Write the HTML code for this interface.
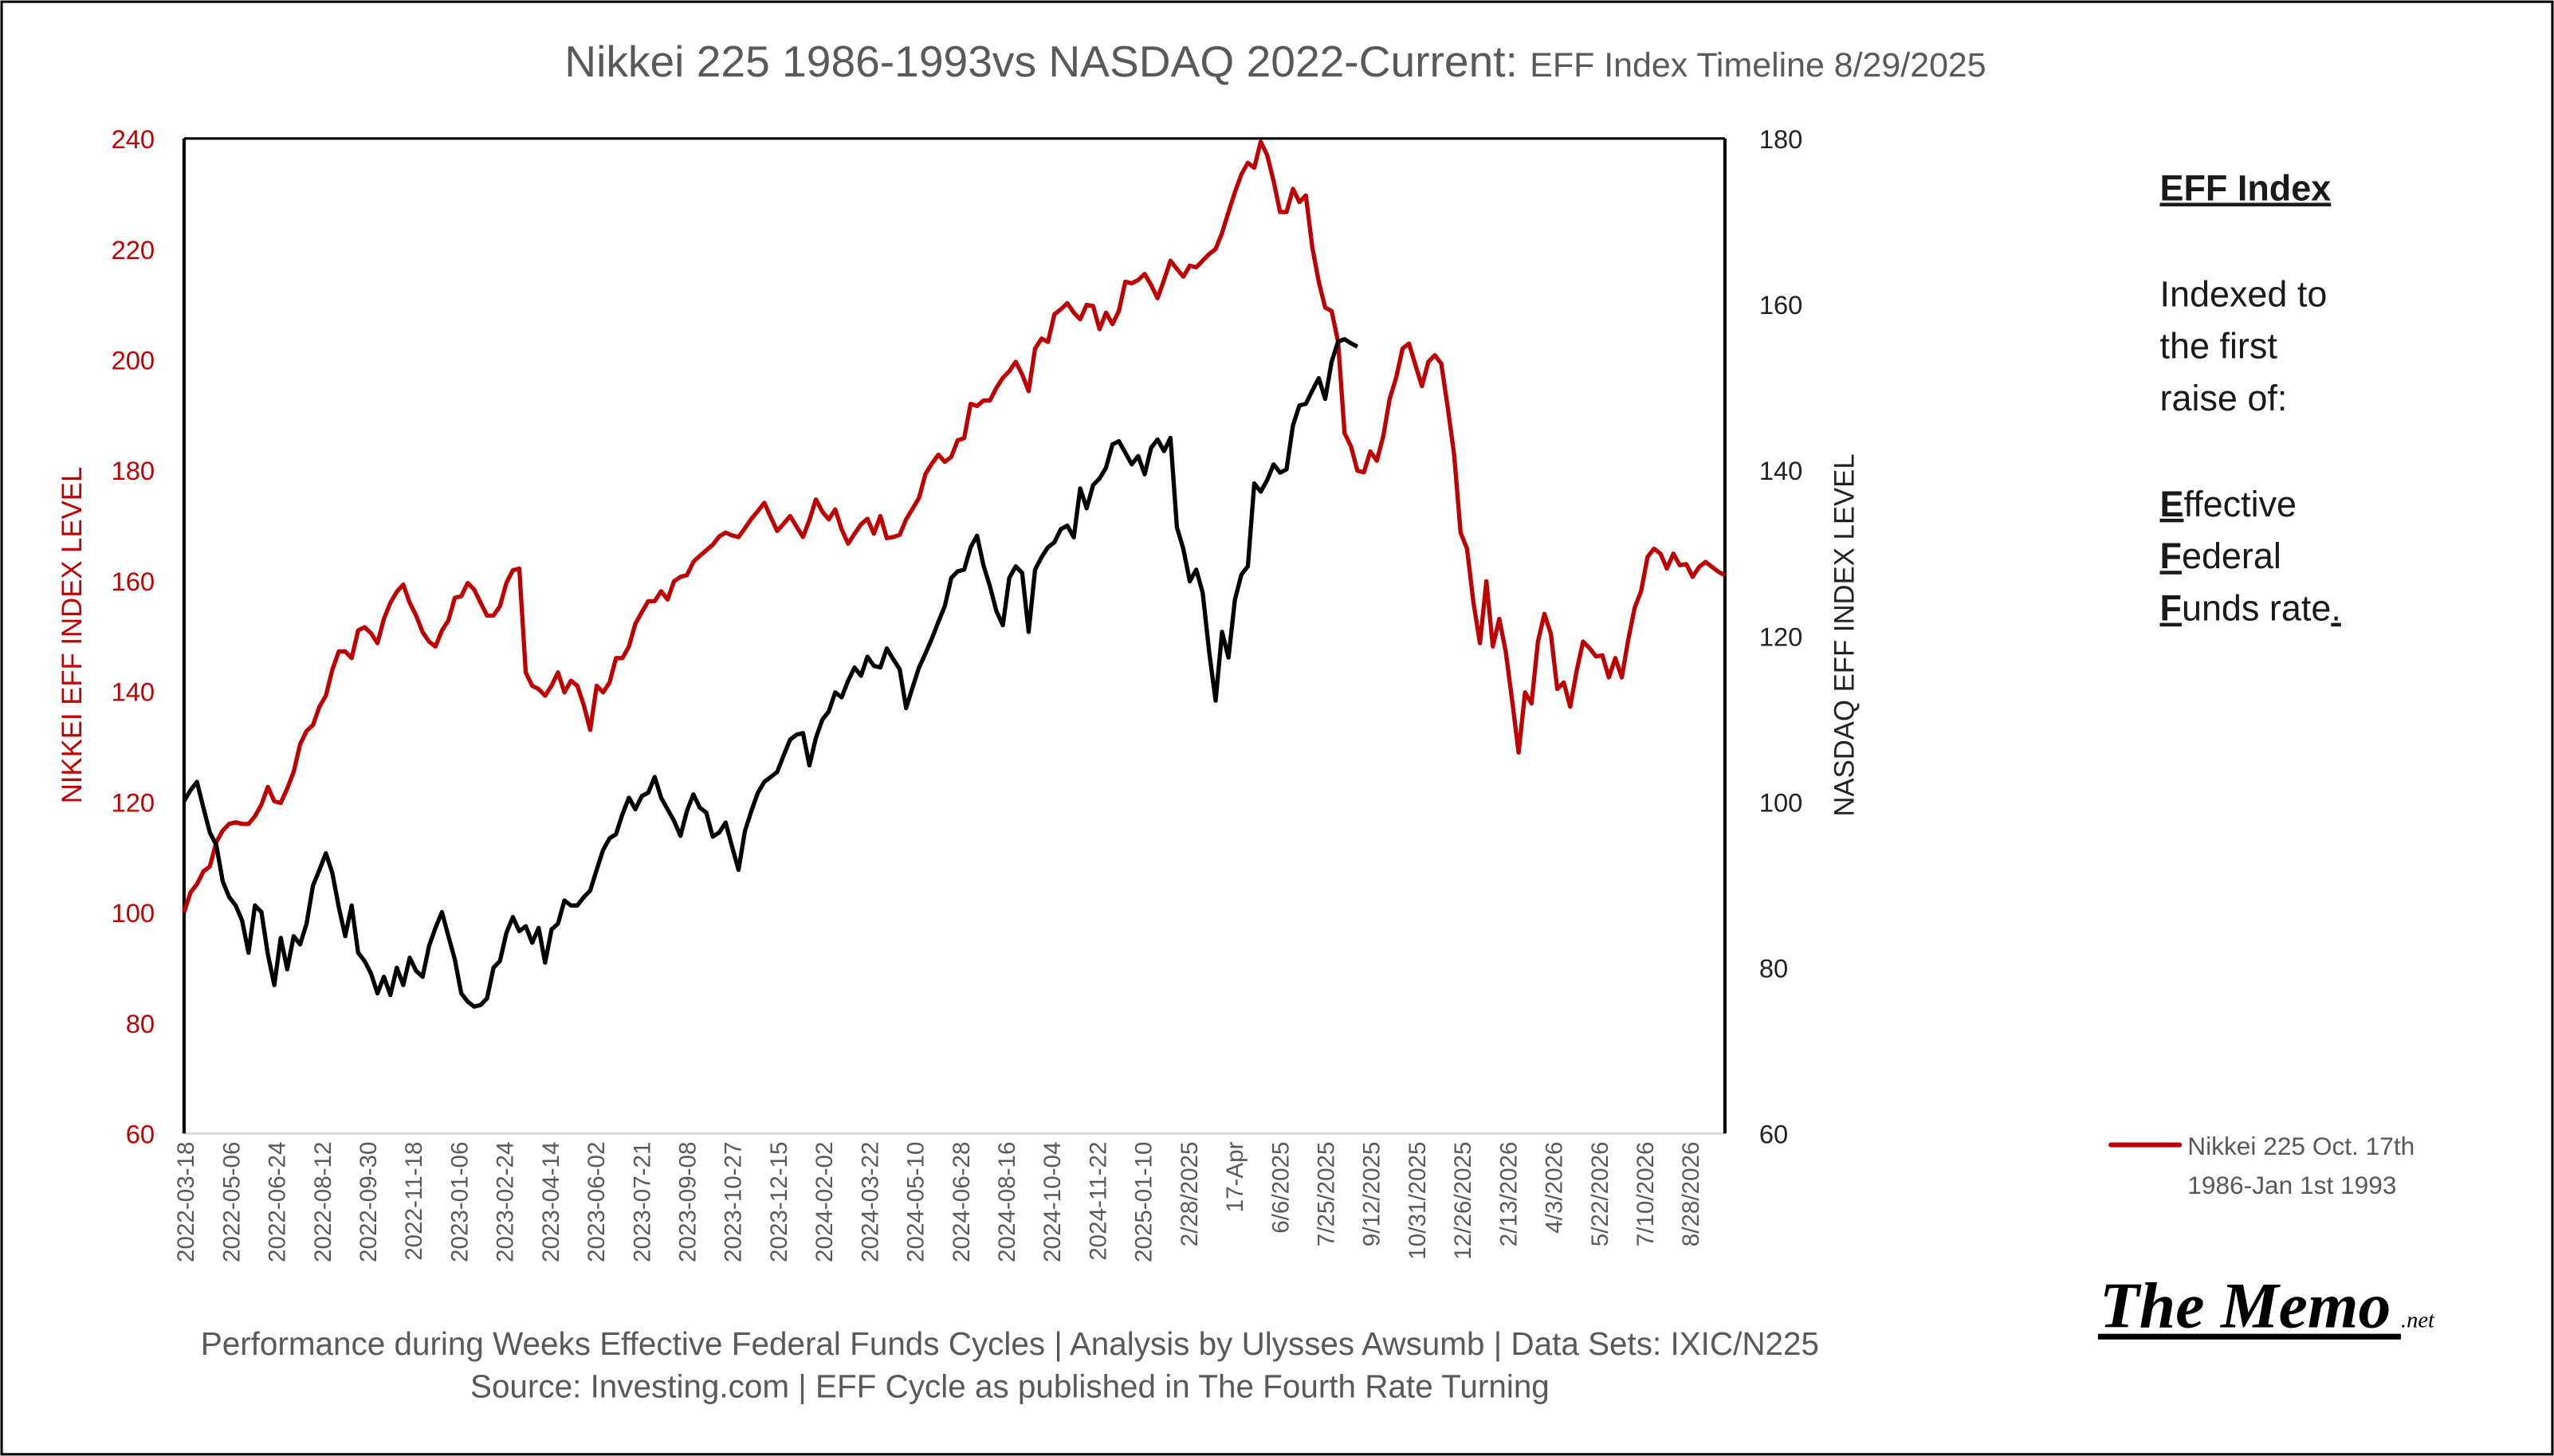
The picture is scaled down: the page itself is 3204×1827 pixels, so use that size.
<!DOCTYPE html>
<html><head><meta charset="utf-8"><style>
html,body{margin:0;padding:0;background:#fff;}
svg{display:block;font-family:"Liberation Sans",sans-serif;}
</style></head><body>
<svg id="chart" width="3204" height="1827" viewBox="0 0 1568 894" xmlns="http://www.w3.org/2000/svg">
<rect x="1" y="1" width="1566" height="892" fill="#fff" stroke="#000" stroke-width="1.5"/>
<text x="783" y="47" text-anchor="middle" fill="#595959" font-size="27">Nikkei 225 1986-1993vs NASDAQ 2022-Current: <tspan font-size="21">EFF Index Timeline 8/29/2025</tspan></text>
<g id="plot"></g>
<text transform="translate(50,390) rotate(-90)" text-anchor="middle" fill="#c00000" font-size="17">NIKKEI EFF INDEX LEVEL</text>
<text transform="translate(1138,390) rotate(-90)" text-anchor="middle" fill="#222" font-size="17">NASDAQ EFF INDEX LEVEL</text>
<text x="620" y="832" text-anchor="middle" fill="#595959" font-size="19.8">Performance during Weeks Effective Federal Funds Cycles  |  Analysis  by Ulysses Awsumb  |  Data Sets: IXIC/N225</text>
<text x="620" y="858" text-anchor="middle" fill="#595959" font-size="19.8">Source: Investing.com  |  EFF Cycle as published in The Fourth Rate Turning</text>
<g fill="#1a1a1a" font-size="22">
<text x="1326" y="123" font-weight="bold" text-decoration="underline">EFF Index</text>
<text x="1326" y="188">Indexed to</text>
<text x="1326" y="220">the first</text>
<text x="1326" y="252">raise of:</text>
<text x="1326" y="317"><tspan font-weight="bold" text-decoration="underline">E</tspan>ffective</text>
<text x="1326" y="349"><tspan font-weight="bold" text-decoration="underline">F</tspan>ederal</text>
<text x="1326" y="381"><tspan font-weight="bold" text-decoration="underline">F</tspan>unds rate<tspan text-decoration="underline">.</tspan></text>
</g>
<g>
<line x1="1296" y1="703" x2="1338" y2="703" stroke="#c00000" stroke-width="3" stroke-linecap="round"/>
<text x="1343" y="709" fill="#595959" font-size="15.5">Nikkei 225 Oct. 17th</text>
<text x="1343" y="733" fill="#595959" font-size="15.5">1986-Jan 1st 1993</text>
</g>
<g>
<text x="1289" y="815" font-family="'Liberation Serif',serif" font-weight="bold" font-style="italic" font-size="40" fill="#000">The Memo</text>
<rect x="1288" y="819" width="186" height="3.5" fill="#000"/>
<text x="1474" y="815" font-family="'Liberation Serif',serif" font-style="italic" font-size="14" fill="#000">.net</text>
</g>
</svg>
<script>
const xLabels = ["2022-03-18","2022-05-06","2022-06-24","2022-08-12","2022-09-30","2022-11-18","2023-01-06","2023-02-24","2023-04-14","2023-06-02","2023-07-21","2023-09-08","2023-10-27","2023-12-15","2024-02-02","2024-03-22","2024-05-10","2024-06-28","2024-08-16","2024-10-04","2024-11-22","2025-01-10","2/28/2025","17-Apr","6/6/2025","7/25/2025","9/12/2025","10/31/2025","12/26/2025","2/13/2026","4/3/2026","5/22/2026","7/10/2026","8/28/2026"];
const leftTicks = [60,80,100,120,140,160,180,200,220,240];
const rightTicks = [60,80,100,120,140,160,180];
const nikkeiValues = [100,103.6,105.1,107.4,108.3,112.7,114.8,116,116.3,116,116,117.4,119.5,122.7,120.1,119.8,122.4,125.4,130.4,132.8,133.9,137.2,139.2,143.9,147.2,147.2,146,151,151.6,150.5,148.7,153.1,156,158,159.3,156,153.7,150.7,149,148.1,151,152.8,156.9,157.2,159.6,158.4,156,153.7,153.7,155.4,159.6,161.9,162.2,143.4,141,140.4,139.2,141,143.4,139.8,141.9,141,137.5,133,141,139.8,141.6,146,146,148.1,152.2,154.3,156.3,156.3,158.1,156.6,159.9,160.7,161,163.4,
164.5,165.5,166.5,168,168.7,168.2,167.9,169.5,171.2,172.6,174.1,171.5,169,170.3,171.7,169.8,167.9,171,174.7,172.5,171.1,172.9,169.3,166.7,168.5,170.2,171.2,168.5,171.7,167.7,167.9,168.3,171.1,173,175,179.3,181.2,182.8,181.5,182.4,185.4,185.8,192,191.6,
192.6,192.6,194.9,196.7,197.9,199.6,197.3,194.3,202,203.8,203.2,208.2,209.1,210.2,208.5,207.3,209.9,209.7,205.5,208.5,206.4,208.8,214.1,213.8,214.4,215.5,213.5,211.1,214.4,217.9,216.4,215,217,216.7,217.9,219.1,220,222.9,226.7,230.3,233.5,235.6,234.7,239.4,237,232.3,226.7,226.7,230.9,228.5,229.7,220.3,214.1,209.4,208.8,203.2,186.7,184.3,179.9,179.6,183.4,181.7,186.1,192.9,196.7,202,202.9,199,195.2,199.6,200.8,199.3,191.4,182.8,168.7,165.8,156,148.7,159.9,148.1,153.1,147.2,138.3,128.9,139.8,137.8,149,154,150.4,140.4,141.6,137.2,143.7,149,147.8,146.3,146.5,142.5,146,142.5,149.3,155.1,158.1,164.3,165.8,164.9,162.2,164.9,162.8,163,160.7,162.5,163.4,162.5,161.6,161];
const nasdaqValues = [100.1,101.4,102.4,99.3,96.3,94.8,90.4,88.5,87.5,85.7,81.8,87.5,86.7,81.6,77.9,83.6,79.8,83.8,82.8,85.3,89.9,91.8,93.8,91.4,87.3,83.8,87.5,81.8,80.8,79.3,76.9,78.9,76.7,80,77.9,81.2,79.6,78.9,82.6,84.8,86.7,83.8,81,76.9,75.9,75.3,75.5,76.3,80,80.8,84.2,86.1,84.4,85,83,84.8,80.6,84.6,85.3,88.1,87.5,87.5,88.5,89.3,91.8,94.2,95.6,96.1,98.5,100.5,99.1,100.7,101.1,103,100.5,99.1,97.7,95.9,98.9,100.9,99.3,98.7,95.8,96.3,97.5,94.6,91.8,96.5,98.9,101.1,102.4,103,103.6,105.6,107.5,108.1,108.3,104.4,107.7,109.9,110.9,113.2,112.6,114.6,116.2,115.2,117.5,116.4,116.2,118.5,117.2,116,111.3,113.8,116.2,117.9,119.7,121.7,123.6,127,127.8,128,130.7,132.1,128.5,126,123,121.3,127,128.4,127.6,120.5,128,129.5,130.7,131.3,132.9,133.3,131.9,137.8,135.4,138.2,139,140.3,143.1,143.5,142.1,140.7,141.7,139.5,142.7,143.7,142.3,143.9,133.1,130.5,126.6,128,125.2,118.1,112.2,120.5,117.4,124.4,127.4,128.4,138.4,137.4,138.8,140.7,139.7,140.1,145.4,147.8,148,149.6,151.1,148.6,153.1,155.5,155.8,155.3,154.9];

const NS="http://www.w3.org/2000/svg";
const L=113,R=1059,T=85,B=696;
const yLeft=v=>B-(v-60)/(240-60)*(B-T);
const yRight=v=>B-(v-60)/(180-60)*(B-T);
const xIdx=i=>L+i*(R-L)/(nikkeiValues.length-1);
const xLab=i=>114+i*28;
const plot=document.getElementById('plot');
function mk(tag,attrs,parent){const e=document.createElementNS(NS,tag);for(const k in attrs)e.setAttribute(k,attrs[k]);(parent||plot).appendChild(e);return e;}

leftTicks.forEach(v=>{
  const t=mk('text',{x:95,y:yLeft(v)+6,'text-anchor':'end',fill:'#c00000','font-size':16});
  
  
  t.textContent=v;
});
rightTicks.forEach(v=>{
  const t=mk('text',{x:1080,y:yRight(v)+6,fill:'#222','font-size':16});
  
  
  t.textContent=v;
});
xLabels.forEach((s,i)=>{
  const t=mk('text',{transform:`translate(${xLab(i)+5},${701}) rotate(-90)`,'text-anchor':'end',fill:'#595959','font-size':14.5});
  
  
  t.textContent=s;
});

const bl=mk('line',{x1:L,y1:B,x2:R,y2:B,stroke:'#d9d9d9','stroke-width':1.5});


const tl=mk('line',{x1:L,y1:T,x2:R,y2:T,stroke:'#000','stroke-width':1.5});


const la=mk('line',{x1:L,y1:T,x2:L,y2:B,stroke:'#000','stroke-width':2});


const ra=mk('line',{x1:R,y1:T,x2:R,y2:B,stroke:'#000','stroke-width':2});



const pN=nikkeiValues.map((v,i)=>xIdx(i).toFixed(2)+','+yLeft(v).toFixed(2)).join(' ');
const nk=mk('polyline',{points:pN,fill:'none',stroke:'#c00000','stroke-width':2.6,'stroke-linejoin':'round'});


const pQ=nasdaqValues.map((v,i)=>xIdx(i).toFixed(2)+','+yRight(v).toFixed(2)).join(' ');
const nq=mk('polyline',{points:pQ,fill:'none',stroke:'#000','stroke-width':2.6,'stroke-linejoin':'round'});


</script>
</body></html>
